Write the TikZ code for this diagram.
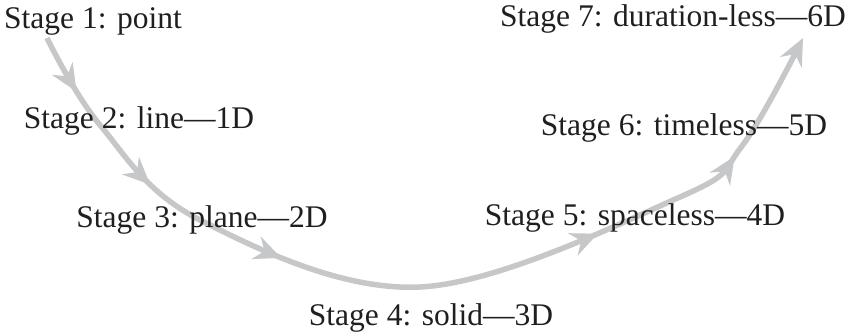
\documentclass[tikz,border=0pt]{standalone}
\usepackage{fontspec}
\setmainfont{Liberation Serif}
\usetikzlibrary{arrows.meta,decorations.markings}
\definecolor{flowgray}{RGB}{198,199,201}
\tikzset{
  headtip/.tip={Stealth[length=27pt,width=24pt,inset=9pt]},
  stagelabel/.style={anchor=base, inner sep=0pt, font=\fontsize{31.5}{37}\selectfont, text=black!88},
  midarrow/.style={postaction={decorate}, decoration={markings,
    mark=at position 0.064 with {\arrow{headtip}},
    mark=at position 0.188 with {\arrow{headtip}},
    mark=at position 0.346 with {\arrow{headtip}},
    mark=at position 0.690 with {\arrow{headtip}},
    mark=at position 0.857 with {\arrow{headtip}}}},
  flow/.style={draw=flowgray, line width=5.5pt, color=flowgray, -headtip, midarrow}
}
\begin{document}
\begin{tikzpicture}[x=1pt,y=-1pt]
\useasboundingbox (0,0) rectangle (849,332);
\coordinate (c0) at (47,38);
\coordinate (c1) at (100,125);
\coordinate (c2) at (200,220);
\coordinate (c3) at (420,287);
\coordinate (c4) at (680,197);
\coordinate (c5) at (742,146);
\coordinate (c6) at (803,38);
\draw[flow] plot[smooth, tension=0.6] coordinates {(c0) (c1) (c2) (c3) (c4) (c5) (c6)};
\node[stagelabel] (s1) at (93,28) {Stage 1: point};
\node[stagelabel] (s2) at (139,128) {Stage 2: line—1D};
\node[stagelabel] (s3) at (202,227) {Stage 3: plane—2D};
\node[stagelabel] (s4) at (431,325) {Stage 4: solid—3D};
\node[stagelabel] (s5) at (635,225) {Stage 5: spaceless—4D};
\node[stagelabel] (s6) at (684,135) {Stage 6: timeless—5D};
\node[stagelabel] (s7) at (673,27) {Stage 7: duration-less—6D};
\end{tikzpicture}
\end{document}
